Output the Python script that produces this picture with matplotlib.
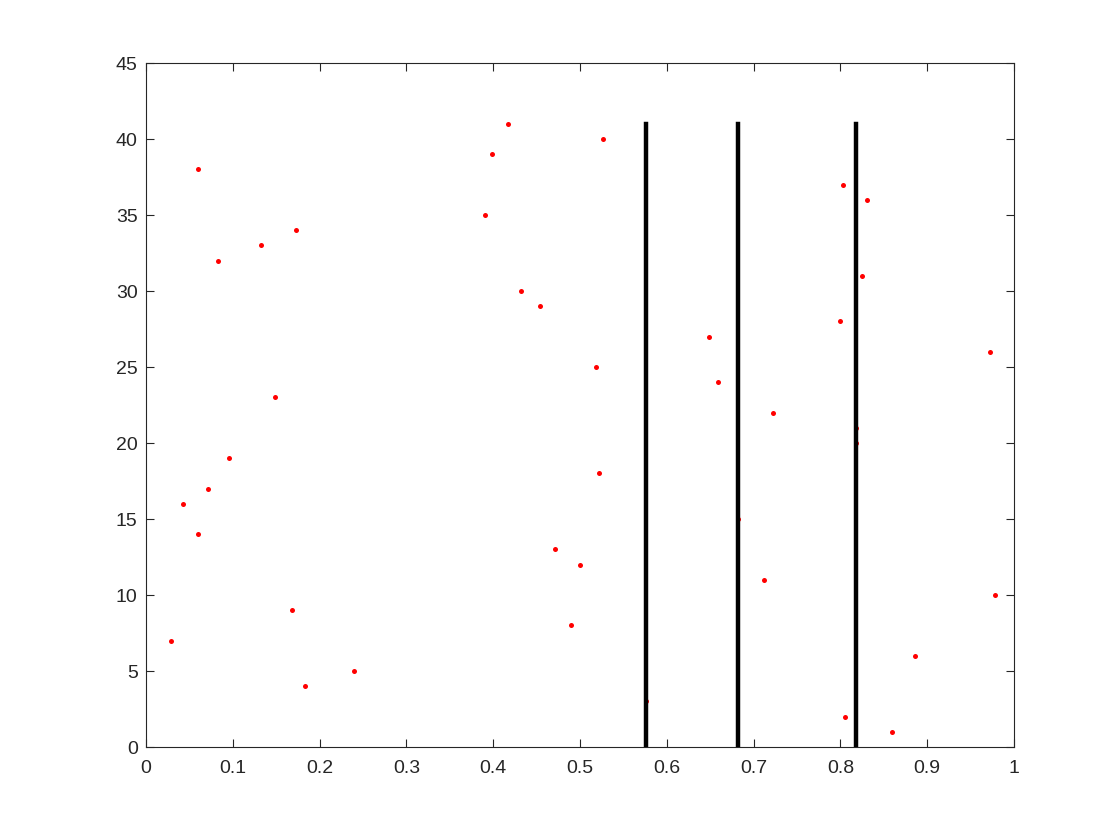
import matplotlib
matplotlib.use('Agg')
import matplotlib.pyplot as plt

# point positions (x value for each index 1..41)
idx = list(range(1, 42))
xvals = [0.859, 0.805, 0.5764, 0.183, 0.2396, 0.886, 0.0284, 0.4896, 0.168, 0.9785,
         0.712, 0.5004, 0.4708, 0.0595, 0.6817, 0.042, 0.071, 0.5215, 0.096, 0.8174,
         0.8174, 0.722, 0.149, 0.659, 0.5184, 0.9727, 0.649, 0.800, 0.4535, 0.4324,
         0.825, 0.0833, 0.133, 0.173, 0.391, 0.831, 0.803, 0.0602, 0.399, 0.527,
         0.4167]
# vertical lines
vlines_x = [0.5764, 0.6817, 0.8174]
vline_top = 41

plt.rcParams['font.family'] = ['Liberation Sans', 'DejaVu Sans']
fig = plt.figure(figsize=(11.2, 8.4), dpi=100)
ax = fig.add_axes([0.1304, 0.1107, 0.775, 0.8143])

ax.plot(xvals, idx, 'o', color='red', markersize=3.6, markeredgewidth=0, zorder=2)
for xv in vlines_x:
    ax.plot([xv, xv], [0, vline_top], color='black', linewidth=3.2, zorder=3)

ax.set_xlim(0, 1)
ax.set_ylim(0, 45)
ax.set_xticks([i / 10 for i in range(11)])
ax.set_xticklabels(['0', '0.1', '0.2', '0.3', '0.4', '0.5', '0.6', '0.7', '0.8', '0.9', '1'])
ax.set_yticks(range(0, 46, 5))
ax.tick_params(direction='in', length=6, width=0.8, colors='#262626', labelsize=14,
               top=True, right=True, labelcolor='#262626')
ax.tick_params(axis='x', pad=9)
ax.tick_params(axis='y', pad=6)
for s in ax.spines.values():
    s.set_color('#262626')
    s.set_linewidth(0.8)

fig.savefig('out.png', dpi=100)
